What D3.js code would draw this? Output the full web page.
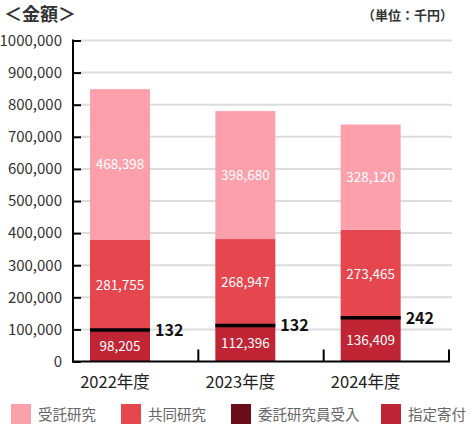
<!DOCTYPE html>
<html>
<head>
<meta charset="utf-8">
<script src="https://cdn.jsdelivr.net/npm/d3@7"></script>
<style>
  body { margin: 0; background: #fff; }
  text { font-family: "Noto Sans CJK JP", "Noto Sans", sans-serif; }
</style>
</head>
<body>
<div id="chart"></div>
<script>
const years = ["2022年度", "2023年度", "2024年度"];
const shitei = [98205, 112396, 136409];   // 指定寄付
const iitaku = [132, 132, 242];           // 委託研究員受入
const kyodo = [281755, 268947, 273465];   // 共同研究
const jutaku = [468398, 398680, 328120];  // 受託研究
const seriesNames = ["指定寄付", "委託研究員受入", "共同研究", "受託研究"];
const legendOrder = ["受託研究", "共同研究", "委託研究員受入", "指定寄付"];
const yTicks = [0, 100000, 200000, 300000, 400000, 500000, 600000, 700000, 800000, 900000, 1000000];
const yTickLabels = ["0", "100,000", "200,000", "300,000", "400,000", "500,000", "600,000", "700,000", "800,000", "900,000", "1000,000"];

const width = 470, height = 430;
const colors = {
    "受託研究": "#fca1ab",
    "共同研究": "#e6464e",
    "委託研究員受入": "#6a0f1a",
    "指定寄付": "#bf2535"
};

const table = years.map((y, i) => ({
    year: y,
    "指定寄付": shitei[i],
    "委託研究員受入": iitaku[i],
    "共同研究": kyodo[i],
    "受託研究": jutaku[i]
}));
const stacked = d3.stack().keys(seriesNames)(table);

const svg = d3.select("#chart").append("svg")
    .attr("width", width)
    .attr("height", height);

const x = d3.scaleBand().domain(years).range([73, 449]);
const y = d3.scaleLinear().domain([0, 1000000]).range([361.5, 40.5]);
const barW = 60, barOff = 17;

// title + unit
svg.append("text").attr("x", 4).attr("y", 21)
    .attr("font-size", 18).attr("font-weight", "bold").attr("fill", "#333")
    .text("＜金額＞");
svg.append("text").attr("x", 453).attr("y", 20).attr("text-anchor", "end")
    .attr("font-size", 13).attr("font-weight", "bold").attr("fill", "#333")
    .text("（単位：千円）");

// grid
svg.append("g").selectAll("line").data(yTicks.filter(d => d > 0)).join("line")
    .attr("x1", 81).attr("x2", 452)
    .attr("y1", d => y(d)).attr("y2", d => y(d))
    .attr("stroke", "#dcdcdc").attr("stroke-width", 2);

// bars
svg.append("g").selectAll("g").data(stacked).join("g")
    .attr("fill", d => colors[d.key])
    .selectAll("rect").data(d => d).join("rect")
    .attr("x", d => x(d.data.year) + barOff)
    .attr("width", barW)
    .attr("y", d => y(d[1]))
    .attr("height", d => y(d[0]) - y(d[1]));

// black marker line for 委託研究員受入
const iiLayer = stacked[1];
svg.append("g").selectAll("line").data(iiLayer).join("line")
    .attr("x1", d => x(d.data.year) + barOff)
    .attr("x2", d => x(d.data.year) + barOff + barW)
    .attr("y1", d => y(d[1]))
    .attr("y2", d => y(d[1]))
    .attr("stroke", "#000").attr("stroke-width", 3.5);

svg.append("g").selectAll("text").data(iiLayer).join("text")
    .attr("x", d => x(d.data.year) + barOff + barW + 5)
    .attr("y", d => y(d[1]) + 6)
    .attr("font-size", 16).attr("font-weight", "bold").attr("fill", "#111")
    .text(d => d3.format(",")(d[1] - d[0]));

// value labels inside bars
[stacked[0], stacked[2], stacked[3]].forEach(layer => {
    svg.append("g").selectAll("text").data(layer).join("text")
        .attr("x", d => x(d.data.year) + barOff + barW / 2)
        .attr("y", d => (y(d[0]) + y(d[1])) / 2 + 5)
        .attr("text-anchor", "middle")
        .attr("font-family", "'Noto Sans', sans-serif")
        .attr("font-size", 13.5).attr("fill", "#fff")
        .text(d => d3.format(",")(d[1] - d[0]));
});

// y axis
const yAxis = svg.append("g")
    .attr("transform", "translate(73,0)")
    .call(d3.axisLeft(y).tickValues(yTicks)
        .tickFormat((d, i) => yTickLabels[i])
        .tickSize(-8).tickPadding(11));
yAxis.select(".domain").remove();
yAxis.selectAll(".tick line").attr("stroke", "#000").attr("stroke-width", 2);
yAxis.selectAll(".tick text")
    .attr("font-family", "'Liberation Sans', Arial, sans-serif")
    .attr("font-size", 15).attr("fill", "#333");
svg.append("line").attr("x1", 73).attr("x2", 73)
    .attr("y1", y(1000000) - 1).attr("y2", y(0) + 1)
    .attr("stroke", "#000").attr("stroke-width", 2);

// x axis
svg.append("line").attr("x1", 72).attr("x2", 450)
    .attr("y1", y(0)).attr("y2", y(0))
    .attr("stroke", "#000").attr("stroke-width", 2);
svg.append("g").selectAll("line").data(years).join("line")
    .attr("x1", d => x(d) + x.bandwidth()).attr("x2", d => x(d) + x.bandwidth())
    .attr("y1", y(0) - 12).attr("y2", y(0))
    .attr("stroke", "#000").attr("stroke-width", 2);
svg.append("g").selectAll("text").data(years).join("text")
    .attr("x", d => x(d) + barOff + barW / 2 - 5)
    .attr("y", 388)
    .attr("text-anchor", "middle")
    .attr("font-size", 16.5).attr("fill", "#222")
    .text(d => d);

// legend
const legendX = [11, 121, 231, 381];
const lg = svg.append("g").selectAll("g").data(legendOrder).join("g")
    .attr("transform", (d, i) => `translate(${legendX[i]},404)`);
lg.append("rect").attr("width", 20).attr("height", 20).attr("fill", d => colors[d]);
lg.append("text").attr("x", 27).attr("y", 15.5)
    .attr("font-size", 14.5).attr("fill", "#666")
    .text(d => d);
</script>
</body>
</html>
